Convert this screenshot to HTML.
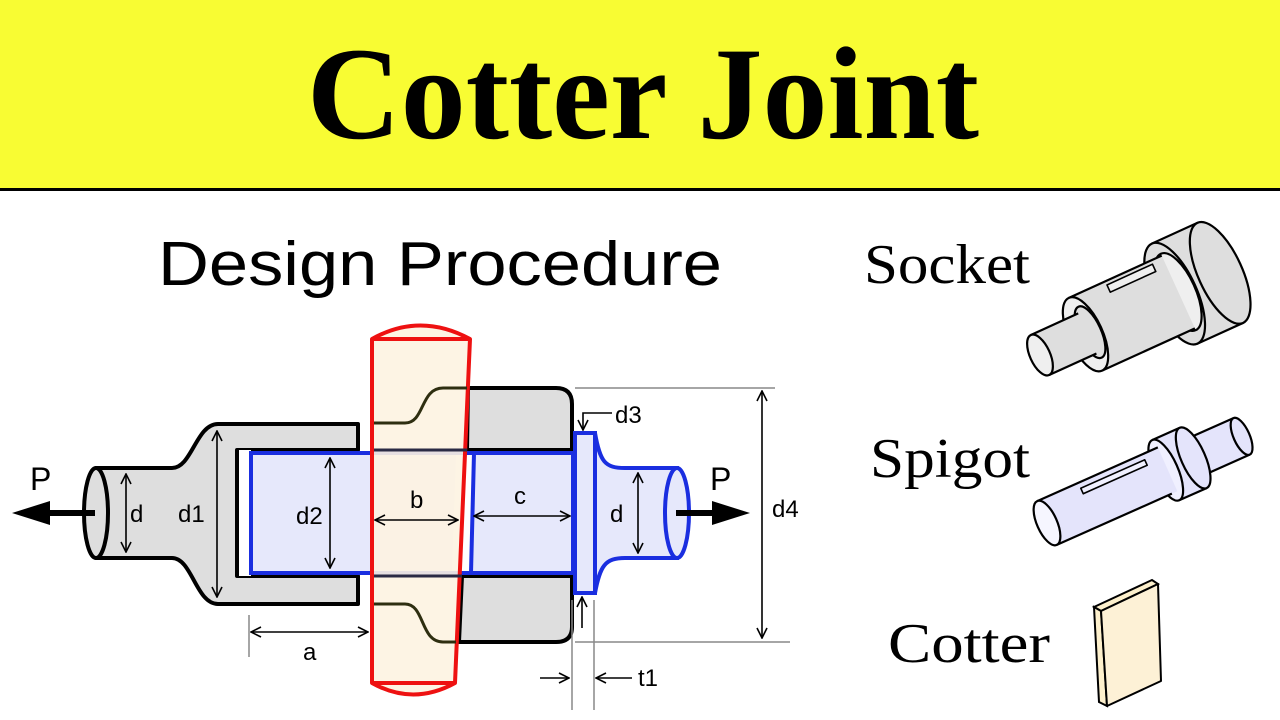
<!DOCTYPE html>
<html><head><meta charset="utf-8"><style>
html,body{margin:0;padding:0;background:#fff;}
svg{display:block;}
</style></head><body>
<svg width="1280" height="720" viewBox="0 0 1280 720" xmlns="http://www.w3.org/2000/svg">
<defs>
<marker id="ah" viewBox="0 0 12 12" refX="11" refY="6" markerWidth="12" markerHeight="12" markerUnits="userSpaceOnUse" orient="auto-start-reverse">
<path d="M1,1 L11,6 L1,11" fill="none" stroke="#000" stroke-width="1.6"/>
</marker>
</defs>
<rect x="0" y="0" width="1280" height="189" fill="#f8fc33"/>
<rect x="0" y="188" width="1280" height="3" fill="#000"/>
<text x="307" y="138" font-family="Liberation Serif, serif" font-size="132" font-weight="bold" textLength="672" lengthAdjust="spacingAndGlyphs">Cotter Joint</text>
<text x="158" y="285" font-family="Liberation Sans, sans-serif" font-size="62" textLength="564" lengthAdjust="spacingAndGlyphs">Design Procedure</text>
<text x="864" y="283" font-family="Liberation Serif, serif" font-size="56" textLength="166" lengthAdjust="spacingAndGlyphs">Socket</text>
<text x="870" y="477" font-family="Liberation Serif, serif" font-size="56" textLength="160" lengthAdjust="spacingAndGlyphs">Spigot</text>
<text x="888" y="662" font-family="Liberation Serif, serif" font-size="56" textLength="162" lengthAdjust="spacingAndGlyphs">Cotter</text>

<!-- socket left body -->
<path d="M96,468 L172,468 C192,468 196,424 218,424 L358,424 L358,450 L237,450 L237,576 L358,576 L358,604 L218,604 C196,604 192,558 172,558 L96,558 Z" fill="#dedede" stroke="#000" stroke-width="4" stroke-linejoin="round"/>
<ellipse cx="96" cy="513" rx="12" ry="45" fill="#dedede" stroke="#000" stroke-width="4"/>
<rect x="237" y="450" width="14" height="126" fill="#fff"/>
<path d="M237,450 L237,576" stroke="#000" stroke-width="4"/>
<!-- socket right collar -->
<path d="M468,388 L556,388 Q572,388 572,404 L572,450 L467,450 Z" fill="#dedede" stroke="#000" stroke-width="4" stroke-linejoin="round"/>
<path d="M462,576 L572,576 L572,627 Q572,642 556,642 L459,642 Z" fill="#dedede" stroke="#000" stroke-width="4" stroke-linejoin="round"/>
<!-- spigot -->
<rect x="251" y="453" width="322" height="120" fill="#e6e8fb" stroke="#1a2ee0" stroke-width="4"/>
<path d="M595,433 C600,462 605,468 625,468 L677,468 L677,558 L625,558 C605,558 600,566 595,593 Z" fill="#e6e8fb" stroke="#1a2ee0" stroke-width="4"/>
<rect x="575" y="433" width="20" height="160" fill="#e6e8fb" stroke="#1a2ee0" stroke-width="4"/>
<ellipse cx="677" cy="513" rx="12" ry="45" fill="#e6e8fb" stroke="#1a2ee0" stroke-width="4"/>
<!-- gap left of slot -->
<path d="M456,455 L474,455 L471,571 L452,571 Z" fill="#fff"/>
<path d="M474,453 L471,573" stroke="#1a2ee0" stroke-width="4"/>
<!-- cotter -->
<path d="M372,339 Q420,312 470,339 L455,683 Q413,706 372,683 Z" fill="#fdf3e1" fill-opacity="0.9" stroke="#ee1111" stroke-width="4" stroke-linejoin="round"/>
<path d="M372,339 L470,339 M372,683 L455,683" stroke="#ee1111" stroke-width="4"/>
<!-- visible lines through cotter -->
<path d="M374,423 L405,423 C425,423 420,388 443,388 L467,388" fill="none" stroke="#2e2e10" stroke-width="3"/>
<path d="M374,604 L405,604 C425,604 420,642 443,642 L456,642" fill="none" stroke="#2e2e10" stroke-width="3"/>
<path d="M374,450 L467,450 M374,576 L462,576" stroke="#2a2a44" stroke-width="3"/>
<!-- dims -->
<g stroke="#000" stroke-width="1.6" fill="none">
<line x1="126" y1="474" x2="126" y2="552" marker-start="url(#ah)" marker-end="url(#ah)"/>
<line x1="217" y1="431" x2="217" y2="597" marker-start="url(#ah)" marker-end="url(#ah)"/>
<line x1="330" y1="458" x2="330" y2="568" marker-start="url(#ah)" marker-end="url(#ah)"/>
<line x1="375" y1="520" x2="458" y2="520" marker-start="url(#ah)" marker-end="url(#ah)"/>
<line x1="474" y1="516" x2="570" y2="516" marker-start="url(#ah)" marker-end="url(#ah)"/>
<line x1="638" y1="473" x2="638" y2="553" marker-start="url(#ah)" marker-end="url(#ah)"/>
<line x1="762" y1="391" x2="762" y2="638" marker-start="url(#ah)" marker-end="url(#ah)"/>
<line x1="251" y1="632" x2="368" y2="632" marker-start="url(#ah)" marker-end="url(#ah)"/>
<path d="M612,413 L583,413 L583,430" marker-end="url(#ah)"/>
<line x1="582" y1="628" x2="582" y2="597" marker-end="url(#ah)"/>
<line x1="540" y1="678" x2="569" y2="678" marker-end="url(#ah)"/>
<line x1="632" y1="678" x2="596" y2="678" marker-end="url(#ah)"/>
</g>
<g stroke="#888" stroke-width="1.5">
<line x1="575" y1="388" x2="775" y2="388"/>
<line x1="575" y1="642" x2="790" y2="642"/>
<line x1="249" y1="615" x2="249" y2="657"/>
<line x1="572" y1="600" x2="572" y2="710"/>
<line x1="594" y1="600" x2="594" y2="710"/>
</g>
<!-- force arrows -->
<line x1="95" y1="513" x2="45" y2="513" stroke="#000" stroke-width="6"/>
<path d="M12,513 L50,501 L50,525 Z" fill="#000"/>
<line x1="676" y1="513" x2="716" y2="513" stroke="#000" stroke-width="6"/>
<path d="M750,513 L712,501 L712,525 Z" fill="#000"/>
<g font-family="Liberation Sans, sans-serif" fill="#000">
<text x="30" y="490" font-size="32">P</text>
<text x="710" y="490" font-size="32">P</text>
<text x="130" y="522" font-size="24">d</text>
<text x="178" y="522" font-size="24">d1</text>
<text x="296" y="524" font-size="24">d2</text>
<text x="410" y="508" font-size="24">b</text>
<text x="514" y="504" font-size="24">c</text>
<text x="610" y="522" font-size="24">d</text>
<text x="772" y="517" font-size="24">d4</text>
<text x="615" y="423" font-size="24">d3</text>
<text x="303" y="660" font-size="24">a</text>
<text x="638" y="686" font-size="24">t1</text>
</g>

<!-- socket icon -->
<g transform="translate(1040,355) rotate(-24.5)" stroke="#000" stroke-width="2.2" stroke-linejoin="round">
<rect x="148" y="-55" width="50" height="110" fill="#dedede"/>
<ellipse cx="198" cy="0" rx="22" ry="55" fill="#dedede"/>
<ellipse cx="148" cy="0" rx="22" ry="55" fill="#dedede"/>
<ellipse cx="152" cy="0" rx="17" ry="42" fill="#efefef"/>
<rect x="50" y="-40" width="102" height="80" fill="#dedede" stroke="none"/>
<line x1="50" y1="-40" x2="152" y2="-40"/><line x1="50" y1="40" x2="152" y2="40"/>
<rect x="90" y="-36" width="50" height="8" fill="#efefef" stroke-width="1.6"/>
<ellipse cx="50" cy="0" rx="17" ry="40" fill="#efefef"/>
<ellipse cx="55" cy="0" rx="11" ry="28" fill="#dedede"/>
<rect x="0" y="-22" width="52" height="44" fill="#dedede" stroke="none"/>
<line x1="0" y1="-22" x2="52" y2="-22"/><line x1="0" y1="22" x2="52" y2="22"/>
<ellipse cx="0" cy="0" rx="10" ry="22" fill="#efefef"/>
</g>
<!-- spigot icon -->
<g transform="translate(1047,523) rotate(-24)" stroke="#000" stroke-width="2.2" stroke-linejoin="round">
<rect x="160" y="-20" width="53" height="40" fill="#e4e4fb" stroke="none"/>
<line x1="160" y1="-20" x2="213" y2="-20"/><line x1="160" y1="20" x2="213" y2="20"/>
<ellipse cx="213" cy="0" rx="8" ry="20" fill="#e4e4fb"/>
<rect x="130" y="-33" width="30" height="66" fill="#e4e4fb" stroke="none"/>
<line x1="130" y1="-33" x2="160" y2="-33"/><line x1="130" y1="33" x2="160" y2="33"/>
<ellipse cx="160" cy="0" rx="12" ry="33" fill="#e4e4fb"/>
<ellipse cx="130" cy="0" rx="12" ry="33" fill="#f0f0ff"/>
<rect x="0" y="-24" width="132" height="48" fill="#e4e4fb" stroke="none"/>
<line x1="0" y1="-24" x2="132" y2="-24"/><line x1="0" y1="24" x2="126" y2="24"/>
<rect x="45" y="-18" width="70" height="6" fill="#f0f0ff" stroke-width="1.6"/>
<ellipse cx="0" cy="0" rx="10" ry="24" fill="#f6f6ff"/>
</g>
<!-- cotter icon -->
<path d="M1094,607 L1152,580 L1158,584 L1101,611 Z" fill="#fdf0cc" stroke="#000" stroke-width="2"/>
<path d="M1094,607 L1101,611 L1107,706 L1099,702 Z" fill="#fdf0cc" stroke="#000" stroke-width="2"/>
<path d="M1101,611 L1158,584 L1161,681 L1107,706 Z" fill="#fdf1d6" stroke="#000" stroke-width="2" stroke-linejoin="round"/>
</svg>
</body></html>
